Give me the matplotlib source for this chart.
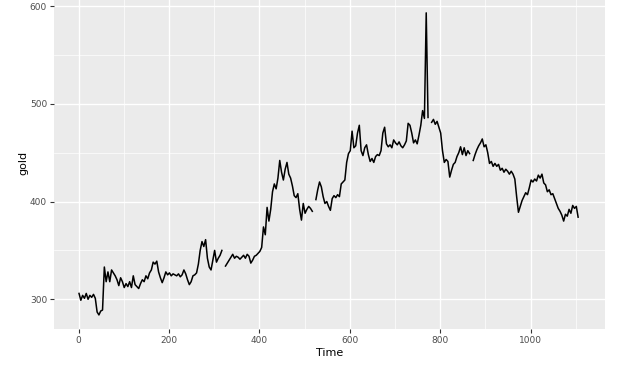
import numpy as np
import matplotlib
matplotlib.use("Agg")
import matplotlib.pyplot as plt
from matplotlib.ticker import MultipleLocator

nan = np.nan
gold = [
    306, 299, 304, 301, 306, 300, 304, 302, 305, 301,
    287, 284, 288, 289, 333, 318, 328, 318, 330, 327,
    324, 320, 314, 322, 318, 312, 316, 313, 318, 312,
    324, 315, 313, 311, 316, 320, 318, 324, 321, 327,
    330, 338, 336, 339, 328, 322, 317, 322, 328, 325,
    327, 324, 326, 325, 324, 326, 323, 325, 330, 326,
    320, 315, 318, 324, 325, 327, 336, 350, 359, 354,
    361, 342, 333, 330, 340, 350, 338, 342, 345, 350,
    nan, 334, 337, 340, 343, 346, 342, 344, 343, 341,
    343, 345, 342, 346, 344, 337, 340, 344, 345, 347,
    349, 353, 374, 366, 394, 380, 392, 410, 418, 413,
    424, 442, 430, 422, 433, 440, 428, 424, 416, 406,
    404, 408, 392, 381, 398, 388, 392, 395, 393, 390,
    nan, 402, 412, 420, 415, 405, 398, 400, 395, 391,
    403, 406, 404, 407, 405, 418, 420, 422, 440, 449,
    452, 472, 455, 457, 470, 478, 452, 447, 455, 458,
    448, 441, 444, 440, 446, 448, 447, 452, 470, 476,
    459, 456, 458, 455, 463, 460, 458, 461, 457, 455,
    458, 462, 480, 478, 470, 460, 463, 459, 468, 478,
    493, 485, 593, 486, nan, 481, 484, 479, 482, 476,
    470, 452, 440, 443, 441, 425, 432, 438, 440, 446,
    450, 456, 448, 455, 447, 452, 449, nan, 442, 448,
    453, 457, 460, 464, 456, 458, 450, 439, 441, 436,
    439, 436, 438, 432, 434, 430, 433, 431, 428, 431,
    428, 423, 405, 389, 395, 401, 405, 409, 407, 414,
    422, 420, 423, 421, 427, 424, 428, 419, 417, 410,
    412, 407, 408, 403, 398, 393, 390, 386, 380, 387,
    385, 392, 388, 396, 393, 395, 384,
]
time = list(range(1, 1 + 4 * len(gold), 4))

x_ticks = [0, 200, 400, 600, 800, 1000]
y_ticks = [300, 400, 500, 600]

fig = plt.figure(figsize=(6.34, 3.66), dpi=100)
ax = fig.add_axes([54 / 634, 1 - 329 / 366, (604.5 - 54) / 634, (329 + 2.2) / 366])
ax.set_facecolor("#EBEBEB")
ax.plot(time, gold, color="black", lw=1.1, zorder=3)

ax.set_xlim(-54.35, 1163.35)
ax.set_ylim(269.6, 608.4)
ax.set_xticks(x_ticks)
ax.set_yticks(y_ticks)
ax.set_yticks([350, 450, 550], minor=True)
ax.set_xticks([100, 300, 500, 700, 900, 1100], minor=True)
ax.grid(which="major", color="white", lw=1.0, zorder=0)
ax.grid(which="minor", color="white", lw=0.5, zorder=0)
ax.set_axisbelow(True)
for s in ax.spines.values():
    s.set_visible(False)
ax.tick_params(which="major", length=3, width=0.8, color="#333333",
               labelsize=6.5, labelcolor="#4D4D4D", pad=2)
ax.tick_params(which="minor", length=0)

ax.set_xlabel("Time", fontsize=8, color="black", labelpad=2)
ax.set_ylabel("gold", fontsize=8, color="black", labelpad=1)

fig.savefig("out.png", dpi=100, facecolor="white")
